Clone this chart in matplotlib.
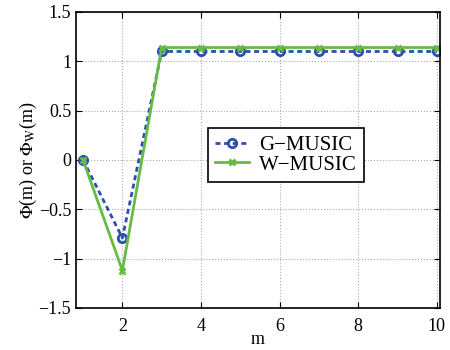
import numpy as np
import matplotlib
matplotlib.use("Agg")
import matplotlib.pyplot as plt

plt.rcParams['font.family'] = ['Liberation Serif', 'DejaVu Serif']
plt.rcParams['mathtext.fontset'] = 'stix'

m = np.arange(1, 11)
g_music = [0, -0.79, 1.10, 1.10, 1.10, 1.10, 1.10, 1.10, 1.10, 1.10]
w_music = [0, -1.12, 1.14, 1.14, 1.14, 1.14, 1.14, 1.14, 1.14, 1.14]

fig = plt.figure(figsize=(4.5, 3.5), dpi=100)
ax = fig.add_axes([76/450, 42/350, 364/450, 296/350])

ax.plot(m, g_music, '--o', color='#2b4fb0', lw=2, ms=6, mfc='none', mew=2,
        dashes=(1.8, 1.3), label='G\u2212MUSIC')
ax.plot(m, w_music, '-x', color='#66bb44', lw=2, ms=5, mew=2,
        label='W\u2212MUSIC')

ax.set_xlim(0.82, 10.08)
ax.set_ylim(-1.5, 1.5)
ax.set_xticks([2, 4, 6, 8, 10])
ax.set_yticks([-1.5, -1, -0.5, 0, 0.5, 1, 1.5])
ax.set_yticklabels(['\u22121.5', '\u22121', '\u22120.5', '0', '0.5', '1', '1.5'])
ax.grid(True, linestyle=':', color='#aaaaaa', lw=0.8)
ax.tick_params(direction='in', labelsize=13, length=4, top=True, right=True)
ax.tick_params(axis='x', pad=7)
for s in ax.spines.values():
    s.set_linewidth(1.2)

ax.set_xlabel('m', fontsize=13, labelpad=-3)
ax.set_ylabel(r'$\Phi$(m) or $\Phi_{\mathrm{W}}$(m)', fontsize=13, labelpad=0)

leg = ax.legend(loc='lower left', bbox_to_anchor=(0.363, 0.426), fontsize=15,
                fancybox=False, framealpha=1, edgecolor='black',
                handlelength=1.6, handletextpad=0.5, borderpad=0.35,
                labelspacing=0.0, borderaxespad=0)
leg.get_frame().set_linewidth(1.2)

plt.savefig('out.png', dpi=100)
